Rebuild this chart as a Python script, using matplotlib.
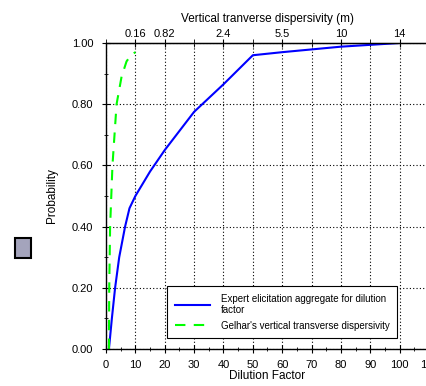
import matplotlib
matplotlib.use('Agg')
import matplotlib.pyplot as plt
from matplotlib.patches import Rectangle
from matplotlib.ticker import MultipleLocator, FixedLocator

plt.rcParams['font.family'] = ['Liberation Sans', 'DejaVu Sans']

# expert elicitation aggregate (dilution factor vs probability)
expert_df = [1, 2, 3.1, 4.5, 6.5, 8, 10, 15, 20, 30, 40, 50, 60, 80, 100]
expert_p = [0.0, 0.1, 0.2, 0.3, 0.4, 0.46, 0.5, 0.58, 0.65, 0.775, 0.865, 0.96, 0.97, 0.988, 1.0]

# Gelhar's vertical transverse dispersivity
gelhar_df = [1.0, 1.1, 1.4, 2.2, 3.6, 5.3, 7.0, 8.5, 10.0]
gelhar_p = [0.0, 0.2, 0.4, 0.6, 0.8, 0.89, 0.94, 0.96, 0.97]

top_pos = [10, 20, 40, 60, 80, 100]
top_labels = ['0.16', '0.82', '2.4', '5.5', '10', '14']

W, H = 427, 386
fig = plt.figure(figsize=(W / 100, H / 100), dpi=100)
ax = fig.add_axes([106 / W, 1 - 349 / H, (429 - 106) / W, (349 - 43) / H])

ax.plot(expert_df, expert_p, color='#0000ff', lw=1.5,
        label='Expert elicitation aggregate for dilution\nfactor')
ax.plot(gelhar_df, gelhar_p, color='#00ff00', lw=1.5, ls=(0, (5, 4)),
        label="Gelhar's vertical transverse dispersivity")

ax.set_xlim(0, 110)
ax.set_ylim(0, 1)
ax.xaxis.set_major_locator(MultipleLocator(10))
ax.xaxis.set_minor_locator(MultipleLocator(5))
ax.yaxis.set_major_locator(MultipleLocator(0.2))
ax.yaxis.set_minor_locator(MultipleLocator(0.1))
ax.yaxis.set_major_formatter(matplotlib.ticker.FormatStrFormatter('%.2f'))
ax.tick_params(which='both', direction='inout', labelsize=8, colors='black')
ax.tick_params(axis='x', pad=5)
ax.tick_params(axis='y', pad=6)
ax.tick_params(which='major', length=6)
ax.tick_params(which='minor', length=3)
ax.grid(True, which='major', color='black', ls=(0, (1, 2)), lw=0.8)
for s in ax.spines.values():
    s.set_linewidth(1.0)
ax.spines['right'].set_visible(False)

ax.set_xlabel('Dilution Factor', fontsize=8.5, labelpad=0)
ax.set_ylabel('Probability', fontsize=8.5, labelpad=10)

top = ax.secondary_xaxis('top')
top.xaxis.set_major_locator(FixedLocator(top_pos))
top.set_xticklabels(top_labels)
top.xaxis.set_minor_locator(MultipleLocator(10))
top.tick_params(which='both', direction='inout', labelsize=8, pad=0)
top.tick_params(which='major', length=6)
top.tick_params(which='minor', length=6)
top.set_xlabel('Vertical tranverse dispersivity (m)', fontsize=8.5, labelpad=5)

leg = ax.legend(loc='lower left', bbox_to_anchor=(0.19, 0.035), fontsize=7,
                frameon=True, fancybox=False, edgecolor='black', framealpha=1,
                handlelength=3.6, handletextpad=1.1, borderpad=0.8,
                labelspacing=0.55, borderaxespad=0)
leg.get_frame().set_linewidth(0.8)

fig.patches.append(Rectangle((15 / W, 1 - 258 / H), 16 / W, 20 / H,
                             transform=fig.transFigure, facecolor='#a4a4bc',
                             edgecolor='black', lw=1.5))

fig.savefig('out.png', dpi=100)
